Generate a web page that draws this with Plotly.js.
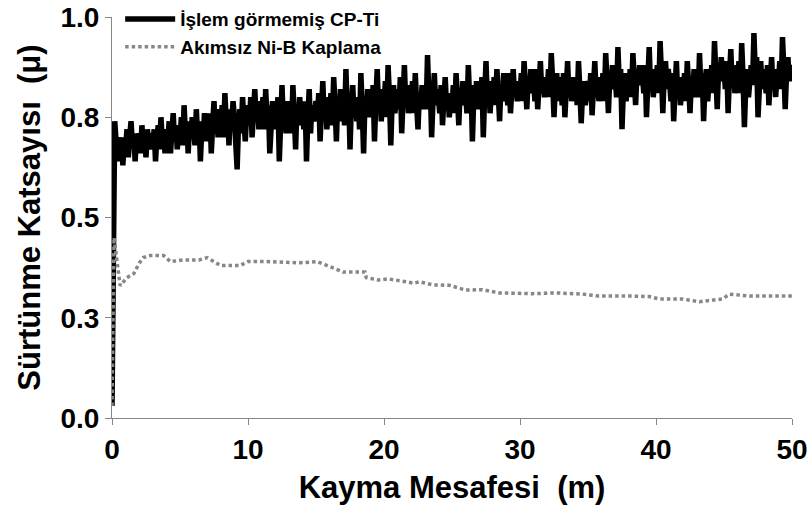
<!DOCTYPE html>
<html>
<head>
<meta charset="utf-8">
<script src="https://cdn.plot.ly/plotly-3.0.1.min.js"></script>
<style>html,body{margin:0;padding:0;background:#fff;}#chart{width:811px;height:510px;}</style>
</head>
<body>
<div id="chart"></div>
<script>
// Sliding distance (m) sampling for untreated CP-Ti: starts at 0, every 0.1 m
var tiStart = 0;
var tiStep = 0.1;
// Friction coefficient, untreated CP-Ti (10 samples per metre)
var tiMu = [
0.03,0.45,0.74,0.69,0.64,0.70,0.66,0.69,0.63,0.70,
0.67,0.72,0.65,0.70,0.74,0.68,0.71,0.64,0.70,0.67,
0.71,0.66,0.73,0.68,0.70,0.65,0.72,0.69,0.67,0.71,
0.68,0.72,0.64,0.70,0.73,0.67,0.75,0.69,0.71,0.66,
0.72,0.68,0.74,0.66,0.71,0.76,0.69,0.73,0.67,0.72,
0.70,0.75,0.68,0.78,0.71,0.74,0.66,0.73,0.70,0.75,
0.72,0.68,0.77,0.70,0.74,0.64,0.72,0.69,0.76,0.71,
0.74,0.69,0.76,0.66,0.73,0.79,0.71,0.75,0.70,0.77,
0.72,0.78,0.70,0.81,0.74,0.77,0.68,0.76,0.73,0.79,
0.75,0.70,0.62,0.73,0.77,0.71,0.80,0.74,0.69,0.76,
0.78,0.73,0.80,0.70,0.76,0.82,0.74,0.79,0.72,0.77,
0.75,0.80,0.72,0.82,0.74,0.78,0.66,0.76,0.79,0.73,
0.77,0.72,0.80,0.64,0.75,0.83,0.73,0.78,0.71,0.79,
0.74,0.79,0.71,0.83,0.76,0.67,0.78,0.73,0.80,0.75,
0.77,0.72,0.79,0.64,0.75,0.82,0.71,0.78,0.74,0.76,
0.79,0.74,0.81,0.69,0.77,0.84,0.75,0.80,0.72,0.78,
0.76,0.81,0.73,0.85,0.78,0.69,0.80,0.74,0.82,0.77,
0.79,0.73,0.87,0.76,0.81,0.67,0.78,0.83,0.75,0.80,
0.74,0.80,0.72,0.86,0.77,0.66,0.79,0.75,0.82,0.76,
0.80,0.75,0.83,0.69,0.79,0.87,0.77,0.82,0.74,0.81,
0.78,0.84,0.75,0.88,0.80,0.68,0.79,0.83,0.76,0.81,
0.82,0.77,0.85,0.71,0.80,0.88,0.78,0.83,0.76,0.81,
0.79,0.84,0.76,0.86,0.78,0.72,0.81,0.77,0.83,0.80,
0.82,0.77,0.905,0.80,0.84,0.70,0.79,0.86,0.78,0.82,
0.80,0.76,0.83,0.73,0.79,0.85,0.77,0.81,0.75,0.80,
0.78,0.83,0.76,0.86,0.80,0.73,0.82,0.78,0.84,0.79,
0.81,0.76,0.88,0.79,0.83,0.69,0.80,0.77,0.84,0.79,
0.82,0.77,0.85,0.70,0.80,0.89,0.79,0.84,0.76,0.82,
0.80,0.85,0.78,0.87,0.81,0.74,0.83,0.79,0.86,0.81,
0.83,0.78,0.86,0.76,0.82,0.87,0.80,0.84,0.79,0.83,
0.81,0.86,0.79,0.89,0.83,0.77,0.85,0.81,0.87,0.82,
0.84,0.79,0.87,0.77,0.83,0.89,0.81,0.85,0.80,0.84,
0.82,0.87,0.80,0.91,0.84,0.75,0.83,0.86,0.79,0.85,
0.83,0.78,0.86,0.75,0.82,0.89,0.80,0.85,0.79,0.83,
0.80,0.85,0.78,0.89,0.82,0.735,0.81,0.84,0.78,0.83,
0.84,0.79,0.86,0.755,0.82,0.89,0.80,0.85,0.79,0.83,
0.81,0.86,0.79,0.91,0.84,0.76,0.85,0.82,0.88,0.83,
0.85,0.80,0.925,0.83,0.87,0.72,0.82,0.86,0.79,0.84,
0.82,0.87,0.80,0.91,0.85,0.78,0.86,0.83,0.88,0.84,
0.86,0.81,0.88,0.75,0.84,0.925,0.82,0.87,0.80,0.85,
0.83,0.88,0.81,0.94,0.86,0.76,0.85,0.89,0.82,0.87,
0.84,0.79,0.86,0.74,0.82,0.89,0.80,0.85,0.78,0.83,
0.81,0.86,0.79,0.89,0.83,0.76,0.84,0.80,0.87,0.82,
0.85,0.80,0.91,0.82,0.86,0.74,0.83,0.87,0.79,0.84,
0.83,0.88,0.81,0.94,0.86,0.77,0.87,0.84,0.90,0.85,
0.87,0.82,0.89,0.76,0.85,0.92,0.83,0.88,0.81,0.86,
0.84,0.89,0.81,0.935,0.85,0.725,0.83,0.87,0.80,0.86,
0.88,0.83,0.96,0.86,0.90,0.75,0.85,0.89,0.82,0.87,
0.85,0.81,0.88,0.78,0.84,0.90,0.82,0.87,0.80,0.86,
0.83,0.89,0.82,0.95,0.87,0.77,0.86,0.90,0.84,0.88,
0.86
];
// Electroless Ni-B coating
var nibDist = [0,0.15,0.6,1.1,1.6,2.0,2.3,2.8,3.8,4.3,5.2,6.4,7.0,8.0,9.4,10.0,11.4,13.8,15.1,16.3,17.0,18.6,18.7,19.6,20.3,21.6,22.2,22.6,23.6,24.8,26.0,27.2,28.5,30.9,32.6,34.6,35.8,38.3,39.5,40.2,41.9,43.2,43.9,44.9,45.4,46.9,50];
var nibMu = [0.03,0.45,0.33,0.35,0.36,0.386,0.40,0.405,0.405,0.39,0.394,0.394,0.40,0.38,0.38,0.39,0.39,0.387,0.39,0.374,0.364,0.364,0.35,0.344,0.347,0.34,0.336,0.34,0.332,0.331,0.319,0.32,0.312,0.31,0.312,0.309,0.304,0.304,0.303,0.297,0.297,0.29,0.292,0.297,0.309,0.304,0.304];
var seriesNames = ['İşlem görmemiş CP-Ti','Akımsız Ni-B Kaplama'];
var xTicks = [0,10,20,30,40,50];

var FONT = 'Arial, "Liberation Sans", sans-serif';
var traces = [
  {type:'scatter', mode:'lines', name:seriesNames[0], y:tiMu, x0:tiStart, dx:tiStep,
   line:{color:'#000000', width:5.5}},
  {type:'scatter', mode:'lines', name:seriesNames[1], x:nibDist, y:nibMu,
   line:{color:'#878787', width:3.5, dash:'3.5px,3px'}}
];
var layout = {
  width:811, height:510,
  margin:{l:112, r:19, t:17, b:92, autoexpand:false},
  paper_bgcolor:'#ffffff', plot_bgcolor:'#ffffff',
  font:{family:FONT, color:'#000000'},
  showlegend:true,
  legend:{x:0.012, y:1.042, xanchor:'left', yanchor:'top', bgcolor:'rgba(0,0,0,0)',
          font:{family:FONT, size:19, weight:'bold', color:'#000'}, itemwidth:50, tracegroupgap:0},
  xaxis:{range:[0,50], tickvals:xTicks, showline:true, linecolor:'#868686', linewidth:1,
         ticks:'outside', ticklen:6, tickcolor:'#868686', showgrid:false, zeroline:false, automargin:false,
         tickfont:{family:FONT, size:28, weight:'bold'},
         title:{text:'Kayma Mesafesi  (m)', font:{family:FONT, size:31, weight:'bold'}, standoff:12}},
  yaxis:{range:[0,1], tick0:0, dtick:0.25, tickformat:'.1f', showline:true, linecolor:'#868686', linewidth:1,
         ticks:'outside', ticklen:6, tickcolor:'#868686', showgrid:false, zeroline:false, automargin:false,
         tickfont:{family:FONT, size:28, weight:'bold'},
         title:{text:'Sürtünme Katsayısı  (μ)', font:{family:FONT, size:31, weight:'bold'}, standoff:10}}
};
Plotly.newPlot('chart', traces, layout, {displayModeBar:false, staticPlot:true});
</script>
</body>
</html>
